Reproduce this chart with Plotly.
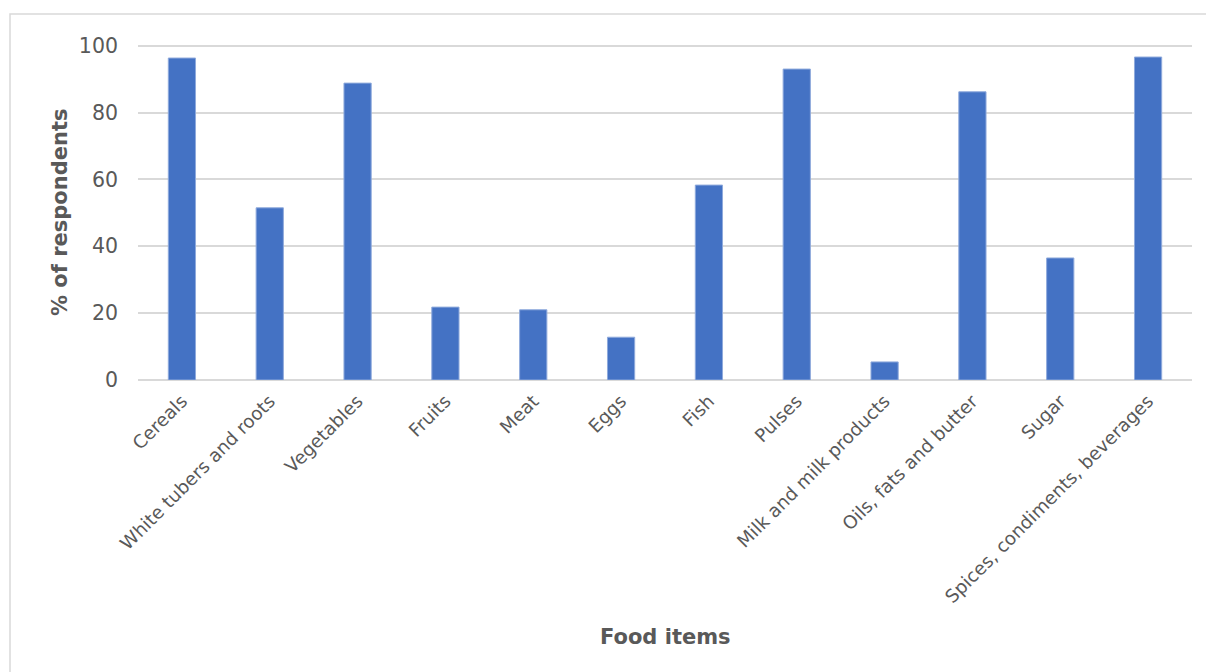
import plotly.graph_objects as go

categories = ["Cereals", "White tubers and roots", "Vegetables", "Fruits", "Meat", "Eggs",
              "Fish", "Pulses", "Milk and milk products", "Oils, fats and butter", "Sugar",
              "Spices, condiments, beverages"]
values = [96.3, 51.5, 88.8, 21.8, 21.0, 12.8, 58.3, 93.0, 5.4, 86.2, 36.5, 96.6]
y_ticks = [0, 20, 40, 60, 80, 100]

W, H = 1206, 672
L, R, T, B = 138, 14, 44, 292
pw, ph = W - L - R, H - T - B

font = "DejaVu Sans, Verdana, sans-serif"
grey = "#595959"

fig = go.Figure(go.Bar(
    x=categories, y=values,
    marker=dict(color="#4472C4", line=dict(color="#8FAADC", width=1)),
    width=0.31,
))

fig.update_layout(
    width=W, height=H,
    margin=dict(l=L, r=R, t=T, b=B, autoexpand=False),
    paper_bgcolor="white", plot_bgcolor="white",
    showlegend=False,
    font=dict(family=font, color=grey),
    xaxis=dict(tickangle=-45, tickfont=dict(size=18.3, color=grey), showgrid=False,
               showline=False, ticks="", ticklabelstandoff=6, automargin=False),
    yaxis=dict(range=[0, 100.5], tickvals=y_ticks, tickfont=dict(size=20.5, color=grey),
               showgrid=True, gridcolor="#D9D9D9", gridwidth=1.5,
               zeroline=True, zerolinecolor="#D9D9D9", zerolinewidth=1.5,
               showline=False, ticks="", ticklabelstandoff=19, automargin=False),
    shapes=[dict(type="rect", xref="paper", yref="paper",
                 x0=(10 - L) / pw, x1=(W + 20 - L) / pw,
                 y0=(T + ph - (H + 20)) / ph, y1=1 + (T - 14) / ph,
                 line=dict(color="#D9D9D9", width=1.5), fillcolor="rgba(0,0,0,0)",
                 layer="below")],
    annotations=[
        dict(text="<b>% of respondents</b>", xref="paper", yref="paper",
             x=(60 - L) / pw, y=0.5, xanchor="center", yanchor="middle",
             textangle=-90, showarrow=False, font=dict(size=21, color=grey, family=font)),
        dict(text="<b>Food items</b>", xref="paper", yref="paper",
             x=0.5, y=(T + ph - 637) / ph, xanchor="center", yanchor="middle",
             showarrow=False, font=dict(size=21, color=grey, family=font)),
    ],
)

fig.write_html("out.html")
